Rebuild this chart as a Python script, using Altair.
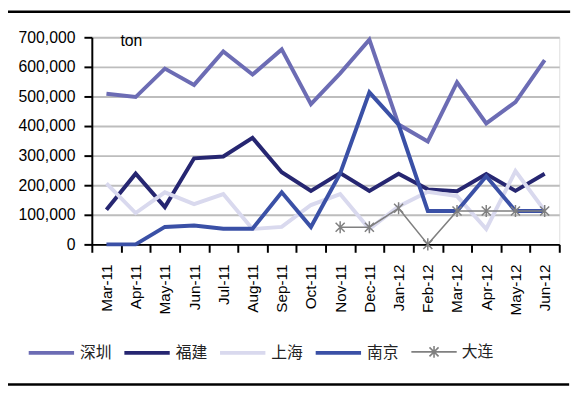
import altair as alt
import pandas as pd

months = ["Mar-11", "Apr-11", "May-11", "Jun-11", "Jul-11", "Aug-11", "Sep-11", "Oct-11",
          "Nov-11", "Dec-11", "Jan-12", "Feb-12", "Mar-12", "Apr-12", "May-12", "Jun-12"]
names = ["深圳", "福建", "上海", "南京", "大连"]
shenzhen = [509000, 498000, 594000, 539000, 652000, 574000, 659000, 474000,
            578000, 692000, 405000, 348000, 548000, 409000, 481000, 623000]
fujian = [117000, 239000, 126000, 291000, 297000, 360000, 244000, 181000,
          241000, 181000, 239000, 186000, 180000, 238000, 181000, 239000]
shanghai = [206000, 106000, 176000, 136000, 170000, 52000, 59000, 133000,
            170000, 52000, 128000, 178000, 163000, 52000, 248000, 114000]
nanjing = [0, 0, 59000, 64000, 53000, 53000, 176000, 59000,
           240000, 514000, 405000, 113000, 113000, 230000, 113000, 113000]
dalian = [None, None, None, None, None, None, None, None,
          58000, 58000, 122000, 0, 113000, 113000, 113000, 113000]
y_ticks = [0, 100000, 200000, 300000, 400000, 500000, 600000, 700000]

colors = ["#6C6CB4", "#262671", "#D9D9EE", "#3A50A6", "#808080"]

rows = []
for name, vals in zip(names, [shenzhen, fujian, shanghai, nanjing, dalian]):
    for i, (m, v) in enumerate(zip(months, vals)):
        if v is not None:
            rows.append({"month": m, "value": v, "series": name, "order": i})
df = pd.DataFrame(rows)

x_enc = alt.X("month:N", sort=months,
              scale=alt.Scale(type="band", domain=months, paddingInner=0, paddingOuter=0),
              axis=alt.Axis(title=None, labelAngle=-90, tickBand="extent", tickSize=8,
                            tickWidth=2, tickColor="black", domainColor="black",
                            domainWidth=2, labelFontSize=15.5, labelPadding=12,
                            labelFont="Liberation Sans", labelColor="black", grid=False))
y_enc = alt.Y("value:Q", scale=alt.Scale(domain=[0, 700000], nice=False),
              axis=alt.Axis(title=None, values=y_ticks, format=",d", tickSize=8,
                            tickWidth=2, tickColor="black", domainColor="black",
                            domainWidth=2, labelFontSize=16, labelPadding=9,
                            labelOverlap=False, labelFont="Liberation Sans",
                            labelColor="black", grid=True, gridColor="#BDBDBD",
                            gridWidth=2))

legend_main = alt.Legend(
    title=None, orient="none", legendX=-66, legendY=295,
    direction="horizontal", columns=4, values=names[:4],
    symbolType="stroke", symbolSize=2116, symbolStrokeWidth=4,
    labelFontSize=16, labelFont="Noto Sans CJK SC", labelColor="#222222",
    labelOffset=4, columnPadding=4)

legend_star = "M-1,0L1,0M0,-0.26L0,0.26M-0.2,-0.2L0.2,0.2M-0.2,0.2L0.2,-0.2"
legend_dl = alt.Legend(
    title=None, orient="none", legendX=323, legendY=295,
    symbolType=legend_star, symbolSize=2116, symbolStrokeWidth=1.6,
    symbolStrokeColor="#808080", symbolFillColor="transparent",
    labelFontSize=16, labelFont="Noto Sans CJK SC", labelColor="#222222",
    labelOffset=4)

base = alt.Chart(df)
lines = base.mark_line(strokeJoin="miter").encode(
    x=x_enc, y=y_enc,
    color=alt.Color("series:N", scale=alt.Scale(domain=names, range=colors),
                    legend=legend_main),
    strokeWidth=alt.condition(alt.datum.series == "大连", alt.value(1.6), alt.value(4)),
    order="order:Q",
)

star = "M0,-1L0,1M-0.75,-0.75L0.75,0.75M-0.75,0.75L0.75,-0.75"
points = base.transform_filter(alt.datum.series == "大连").mark_point(
    shape=star, size=150, filled=False, strokeWidth=1.5, color="#808080"
).encode(
    x=x_enc, y=y_enc,
    opacity=alt.Opacity("series:N", scale=alt.Scale(domain=["大连"], range=[1, 1]),
                        legend=legend_dl),
)

one = alt.Data(values=[{"a": 1}])
ton = alt.Chart(one).mark_text(text="ton", align="left", baseline="alphabetic",
                               fontSize=16, font="Liberation Sans", color="black").encode(
    x=alt.value(29), y=alt.value(9))

top_rule = alt.Chart(one).mark_rule(color="black", strokeWidth=2.5).encode(
    x=alt.value(-85), x2=alt.value(485), y=alt.value(-26))
bottom_rule = alt.Chart(one).mark_rule(color="black", strokeWidth=2.5).encode(
    x=alt.value(-85), x2=alt.value(484), y=alt.value(352))

chart = alt.layer(lines, points, ton, top_rule, bottom_rule).properties(
    width=474, height=210,
    autosize=alt.AutoSizeParams(type="none"),
    padding={"left": 85, "top": 27, "right": 20, "bottom": 148},
).configure_view(stroke=None).configure(background="white")

chart.save("out.html", embed_options={"renderer": "svg", "actions": False})
